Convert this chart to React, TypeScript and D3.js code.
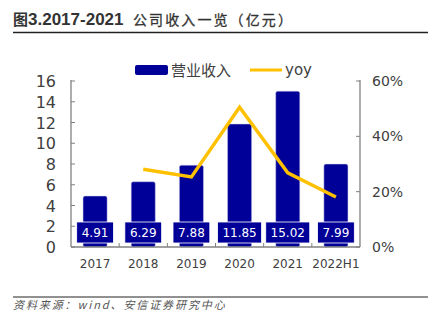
import React from "react";
import * as d3 from "d3";

const categories = ["2017", "2018", "2019", "2020", "2021", "2022H1"];
const revenue = [4.91, 6.29, 7.88, 11.85, 15.02, 7.99];
const yoy: (number | null)[] = [null, 28.1, 25.3, 50.5, 26.8, 18.1];
const leftTicks = [0, 2, 4, 6, 8, 10, 12, 14, 16];
const rightTicks = [0, 20, 40, 60];

const W = 432;
const H = 322;
const BLUE = "#000099";
const GOLD = "#FFC000";
const AXIS = "#808080";
const TEXT = "#404040";
const FONT = "Verdana, 'DejaVu Sans', sans-serif";
const CJK = "'Noto Sans CJK SC', sans-serif";

export default function App() {
  const x0 = 71, x1 = 360, yTop = 81, yBot = 247;
  const x = d3.scaleBand<string>().domain(categories).range([x0, x1]).paddingInner(0.5).paddingOuter(0.25);
  const xc = (c: string) => (x(c) as number) + x.bandwidth() / 2;
  const yL = d3.scaleLinear().domain([0, 16]).range([yBot, yTop]);
  const yR = d3.scaleLinear().domain([0, 60]).range([yBot, yTop]);
  const step = x.step();
  const line = d3
    .line<{ c: string; v: number }>()
    .x((d) => xc(d.c))
    .y((d) => yR(d.v));
  const linePts = categories
    .map((c, i) => ({ c, v: yoy[i] as number }))
    .filter((d, i) => yoy[i] !== null);

  return (
    <svg width={W} height={H} style={{ position: "absolute", left: 0, top: 0 }} xmlns="http://www.w3.org/2000/svg">
      <rect width={W} height={H} fill="#fff" />
      {/* Title */}
      <text x={13} y={25} fill="#333" fontWeight="bold">
        <tspan fontFamily={CJK} fontSize={15}>图</tspan>
        <tspan fontFamily="'Liberation Sans', Arial, sans-serif" fontSize={17}>3.2017-2021</tspan>
        <tspan x={133} fontFamily={CJK} fontSize={14} letterSpacing={2.1} fontWeight="normal" stroke="#333" strokeWidth={0.3}>公司收入一览（亿元）</tspan>
      </text>
      <line x1={13} x2={428} y1={32.5} y2={32.5} stroke="#222" strokeWidth={1.3} />

      {/* Legend */}
      <rect x={135} y={65} width={33} height={10} rx={2} fill={BLUE} />
      <text x={171} y={76} fontFamily={CJK} fontSize={15} fill={TEXT}>营业收入</text>
      <line x1={250} x2={282} y1={70} y2={70} stroke={GOLD} strokeWidth={3} />
      <text x={285} y={75} fontFamily={FONT} fontSize={15} fill={TEXT}>yoy</text>

      {/* Bars */}
      {categories.map((c, i) => (
        <rect
          key={c}
          x={x(c)}
          y={yL(revenue[i])}
          width={x.bandwidth()}
          height={yBot - yL(revenue[i])}
          rx={2}
          fill={BLUE}
          stroke="#c8c8e8"
          strokeWidth={0.5}
        />
      ))}

      {/* Axes */}
      <line x1={x0} x2={x0} y1={yTop - 1} y2={yBot} stroke={AXIS} strokeWidth={1.3} />
      <line x1={x1} x2={x1} y1={yTop - 1} y2={yBot} stroke={AXIS} strokeWidth={1.3} />
      <line x1={x0} x2={x1} y1={yBot} y2={yBot} stroke={AXIS} strokeWidth={1.3} />
      {leftTicks.map((t) => (
        <g key={"l" + t}>
          <line x1={x0} x2={x0 + 4} y1={yL(t)} y2={yL(t)} stroke={AXIS} strokeWidth={1} />
          <text x={56} y={yL(t) + 6} textAnchor="end" fontFamily={FONT} fontSize={16} fill={TEXT}>{t}</text>
        </g>
      ))}
      {rightTicks.map((t) => (
        <g key={"r" + t}>
          <line x1={x1 - 4} x2={x1} y1={yR(t)} y2={yR(t)} stroke={AXIS} strokeWidth={1} />
          <text x={372} y={yR(t) + 5} fontFamily={FONT} fontSize={14} fill={TEXT}>{t}%</text>
        </g>
      ))}
      {categories.slice(0, -1).map((c) => (
        <line key={"t" + c} x1={xc(c) + step / 2} x2={xc(c) + step / 2} y1={yBot} y2={yBot - 4} stroke={AXIS} strokeWidth={1} />
      ))}
      {categories.map((c) => (
        <text key={"c" + c} x={xc(c)} y={268} textAnchor="middle" fontFamily={FONT} fontSize={12} fill={TEXT}>{c}</text>
      ))}

      {/* Data labels */}
      {categories.map((c, i) => {
        const label = revenue[i].toFixed(2);
        const w = label.length * 7.2 + 8;
        return (
          <g key={"d" + c}>
            <rect x={xc(c) - w / 2} y={222} width={w} height={21} fill={BLUE} stroke="#fff" strokeWidth={0.8} />
            <text x={xc(c)} y={237} textAnchor="middle" fontFamily={FONT} fontSize={12} fill="#fff">{label}</text>
          </g>
        );
      })}

      {/* Line */}
      <path d={line(linePts) || ""} fill="none" stroke={GOLD} strokeWidth={3.4} strokeLinejoin="miter" />

      {/* Footer */}
      <line x1={13} x2={428} y1={297} y2={297} stroke="#222" strokeWidth={1} />
      <text x={13} y={309} fontFamily={CJK} fontStyle="italic" fontSize={11} letterSpacing={1.9} fill="#555">
        资料来源：wind、安信证券研究中心
      </text>
    </svg>
  );
}
